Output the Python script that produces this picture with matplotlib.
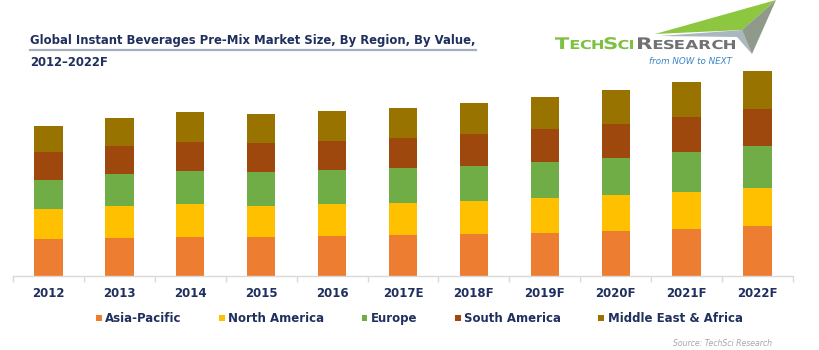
import matplotlib
matplotlib.use("Agg")
import matplotlib.pyplot as plt
import numpy as np
from matplotlib.patches import Polygon, PathPatch
from matplotlib.lines import Line2D
from matplotlib.textpath import TextPath
from matplotlib.font_manager import FontProperties
from matplotlib.path import Path
from matplotlib.transforms import Affine2D

years = ["2012", "2013", "2014", "2015", "2016", "2017E", "2018F", "2019F", "2020F", "2021F", "2022F"]
regions = ["Asia-Pacific", "North America", "Europe", "South America", "Middle East & Africa"]
asia_pacific = [36.7, 38.0, 39.0, 38.7, 39.4, 40.7, 41.7, 42.7, 44.8, 46.7, 50.0]
north_america = [29.7, 31.4, 32.4, 31.3, 32.3, 32.3, 33.3, 35.0, 35.5, 37.3, 37.3]
europe = [29.6, 32.0, 33.0, 33.4, 33.7, 34.4, 35.0, 36.0, 37.8, 39.7, 42.4]
south_america = [27.4, 28.3, 29.6, 29.3, 29.6, 30.0, 31.4, 32.7, 33.8, 35.3, 37.3]
middle_east_africa = [26.6, 28.3, 30.0, 29.0, 30.0, 30.6, 31.0, 32.0, 33.4, 35.0, 37.7]
colors = ["#ed7d31", "#ffc000", "#70ad47", "#9e480e", "#997300"]

W, H = 820, 350
fig = plt.figure(figsize=(W / 100, H / 100), dpi=100)
fig.patch.set_facecolor("white")

base_y = 275.7
ax_h = 220.0
ax = fig.add_axes([13 / W, (H - base_y) / H, 780 / W, ax_h / H])
ax.set_facecolor("none")

series = [asia_pacific, north_america, europe, south_america, middle_east_africa]
x = np.arange(len(years))
bottom = np.zeros(len(years))
handles = []
for vals, c, name in zip(series, colors, regions):
    b = ax.bar(x, vals, width=0.4, bottom=bottom, color=c, label=name,
               edgecolor="none", zorder=2)
    handles.append(b)
    bottom += np.array(vals)

ax.set_xlim(-0.5, len(years) - 0.5)
ax.set_ylim(0, ax_h)
for s in ["top", "left", "right"]:
    ax.spines[s].set_visible(False)
ax.spines["bottom"].set_color("#d9d9d9")
ax.spines["bottom"].set_linewidth(1.0)
ax.set_yticks([])
ax.set_xticks(x)
ax.set_xticklabels(years, fontsize=8.5, fontweight="bold", color="#1f2f5e")
ax.tick_params(axis="x", which="major", length=0, pad=8)
ax.set_xticks(np.arange(-0.5, len(years), 1.0), minor=True)
ax.tick_params(axis="x", which="minor", length=4, color="#d9d9d9", width=1.0)

navy = "#1f2f5e"
# Title
fig.text(30 / W, 1 - 40.7 / H, "Global Instant Beverages Pre-Mix Market Size, By Region, By Value,",
         fontsize=8.4, fontweight="bold", color=navy, va="center", ha="left")
fig.text(30 / W, 1 - 62.7 / H, "2012\u20132022F",
         fontsize=8.4, fontweight="bold", color=navy, va="center", ha="left")
fig.add_artist(Line2D([30 / W, 476 / W], [1 - 50 / H, 1 - 50 / H], color="#a7afbe",
                      linewidth=1.6, transform=fig.transFigure))

# Logo swoosh
def fp(pts):
    return [(px / W, 1 - py / H) for px, py in pts]

fig.add_artist(Polygon(fp([(655, 34), (776, 0), (742, 30)]), closed=True,
                       facecolor="#8dc63f", edgecolor="none", transform=fig.transFigure))
fig.add_artist(Polygon(fp([(660, 36), (742, 30), (752, 54), (737, 37)]), closed=True,
                       facecolor="#a9b7c0", edgecolor="none", transform=fig.transFigure))
fig.add_artist(Polygon(fp([(742, 30), (776, 0), (752, 54)]), closed=True,
                       facecolor="#8f9a8a", edgecolor="none", transform=fig.transFigure))

# Logo word marks (small caps, stretched to width)
fprop = FontProperties(family="DejaVu Sans", weight="semibold")

def word_mark(runs, x0, ybase, width, color, gap=1.2):
    paths = []
    xoff = 0.0
    for s, size in runs:
        tp = TextPath((0, 0), s, size=size, prop=fprop)
        ext = tp.get_extents()
        tp = tp.transformed(Affine2D().translate(xoff - ext.x0, 0))
        paths.append(tp)
        xoff += ext.width + gap
    natural = xoff - gap
    sx = width / natural
    combined = Path.make_compound_path(*paths)
    tr = (Affine2D().scale(sx, 1.0).translate(x0, H - ybase).scale(1 / W, 1 / H)
          + fig.transFigure)
    fig.add_artist(PathPatch(combined, facecolor=color, edgecolor="none", transform=tr))

big, small = 16.0, 12.3
word_mark([("T", big), ("E", small), ("C", small), ("H", small), ("S", big),
           ("C", small), ("I", small)], 555, 49, 78, "#7dc142")
word_mark([("R", big), ("E", small), ("S", small), ("E", small), ("A", small),
           ("R", small), ("C", small), ("H", small)], 638, 49, 97, "#707173")
fig.text(691 / W, 1 - 61 / H, "from NOW to NEXT", fontsize=6.3, style="italic",
         color="#3a86c8", ha="center", va="center")

# Legend
leg = fig.legend(handles=handles, labels=regions, loc="center left",
                 bbox_to_anchor=(95.7 / W, 1 - 318.5 / H), ncol=5, frameon=False,
                 fontsize=8.5, handlelength=0.5, handleheight=0.45, handletextpad=0.3,
                 columnspacing=3.15, borderpad=0, borderaxespad=0)
for t in leg.get_texts():
    t.set_fontweight("bold")
    t.set_color(navy)

fig.text(772 / W, 1 - 344 / H, "Source: TechSci Research", fontsize=5.6, style="italic",
         color="#a6a6a6", ha="right", va="center")

fig.savefig("out.png", dpi=100, facecolor="white")
